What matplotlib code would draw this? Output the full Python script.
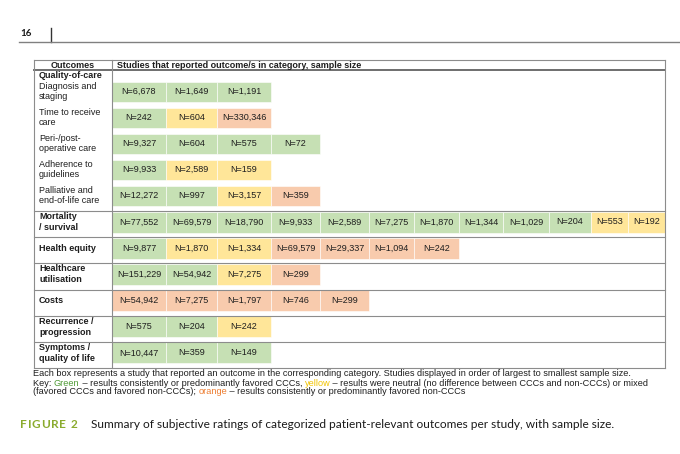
import matplotlib
matplotlib.use("Agg")
import matplotlib.pyplot as plt
from matplotlib.patches import Rectangle

# ---- data ----
sub_labels = ["Diagnosis and\nstaging", "Time to receive\ncare",
              "Peri-/post-\noperative care", "Adherence to\nguidelines",
              "Palliative and\nend-of-life care"]
sub_sizes = [
    [6678, 1649, 1191],
    [242, 604, 330346],
    [9327, 604, 575, 72],
    [9933, 2589, 159],
    [12272, 997, 3157, 359],
]
sub_ratings = [
    "ggg",
    "gyo",
    "gggg",
    "gyy",
    "ggyo",
]

main_labels = ["Mortality\n/ survival", "Health equity", "Healthcare\nutilisation",
               "Costs", "Recurrence /\nprogression", "Symptoms /\nquality of life"]
main_sizes = [
    [77552, 69579, 18790, 9933, 2589, 7275, 1870, 1344, 1029, 204, 553, 192],
    [9877, 1870, 1334, 69579, 29337, 1094, 242],
    [151229, 54942, 7275, 299],
    [54942, 7275, 1797, 746, 299],
    [575, 204, 242],
    [10447, 359, 149],
]
main_ratings = [
    "ggggggggggyy",
    "gyyoooo",
    "ggyo",
    "ooooo",
    "ggy",
    "ggg",
]

fill = {"g": "#c6e0b4", "y": "#ffe699", "o": "#f8cbad"}

# ---- layout (pixels) ----
col_w = [54, 51, 54, 49, 49, 45, 45, 44, 46, 42, 37, 37]
x_left, x_split, x_right = 34, 112, 665
y_top, y_head = 60, 70
sub_first, sub_pitch, sub_h = 91.5, 26.0, 20
main_top, main_pitch, main_h = 211, 26.17, 21

FONT = "Liberation Sans"
FS = 6.5
line_col = "#8c8c8c"
dark = "#1e1e1e"

fig = plt.figure(figsize=(6.8, 4.54), dpi=100)
ax = fig.add_axes([0, 0, 1, 1])
ax.set_xlim(0, 680)
ax.set_ylim(454, 0)
ax.axis("off")

col_x = [x_split]
for w in col_w:
    col_x.append(col_x[-1] + w)


def draw_cells(yc, h, sizes, ratings):
    for k, (n, r) in enumerate(zip(sizes, ratings)):
        ax.add_patch(Rectangle((col_x[k], yc - h / 2), col_w[k], h,
                               facecolor=fill[r], edgecolor="white", lw=0.4))
        ax.text(col_x[k] + col_w[k] / 2, yc, "N={:,}".format(n), ha="center",
                va="center", fontsize=FS, family=FONT, color=dark)


# page header
ax.text(20, 33, "16", fontsize=7, fontweight="bold", family="Lato",
        va="center", color="#1a1a1a")
ax.plot([51, 51], [28, 42], color="#333333", lw=1.0)
ax.plot([19, 680], [42, 42], color="#808080", lw=1.0)

# table header
ax.text((x_left + x_split) / 2, (y_top + y_head) / 2 + 0.5, "Outcomes",
        ha="center", va="center", fontsize=FS, fontweight="bold", family=FONT,
        color=dark)
ax.text(x_split + 5, (y_top + y_head) / 2 + 0.5,
        "Studies that reported outcome/s in category, sample size",
        ha="left", va="center", fontsize=FS, fontweight="bold", family=FONT,
        color=dark)

# quality-of-care block
ax.text(x_left + 5, 75.5, "Quality-of-care", va="center", fontsize=FS,
        fontweight="bold", family=FONT, color=dark)
for i, (lab, sz, rt) in enumerate(zip(sub_labels, sub_sizes, sub_ratings)):
    yc = sub_first + i * sub_pitch
    ax.text(x_left + 5, yc, lab, va="center", fontsize=FS, family=FONT,
            color=dark, linespacing=1.25)
    draw_cells(yc, sub_h, sz, rt)

# main outcome rows
seps = [main_top]
for j, (lab, sz, rt) in enumerate(zip(main_labels, main_sizes, main_ratings)):
    top = main_top + j * main_pitch
    yc = top + 0.5 + main_h / 2
    ax.text(x_left + 5, yc, lab, va="center", fontsize=FS, fontweight="bold",
            family=FONT, color=dark, linespacing=1.25)
    draw_cells(yc, main_h, sz, rt)
    seps.append(top + main_pitch)
y_bot = seps[-1]

# grid lines
ax.plot([x_left, x_right], [y_top, y_top], color=line_col, lw=0.8)
ax.plot([x_left, x_right], [y_head, y_head], color="#6e6e6e", lw=1.4)
for s in seps:
    ax.plot([x_left, x_right], [s, s], color=line_col, lw=0.8)
for xv in (x_left, x_split, x_right):
    ax.plot([xv, xv], [y_top, y_bot], color=line_col, lw=0.8)

# footnote
renderer = fig.canvas.get_renderer()


def draw_pieces(x, y, pieces, **kw):
    for txt, colr in pieces:
        t = ax.text(x, y, txt, color=colr, va="center", **kw)
        bb = t.get_window_extent(renderer=renderer)
        p0 = ax.transData.inverted().transform((bb.x0, bb.y0))
        p1 = ax.transData.inverted().transform((bb.x1, bb.y0))
        x += p1[0] - p0[0]
    return x


note_kw = dict(fontsize=6.6, family=FONT)
draw_pieces(33, 374, [("Each box represents a study that reported an outcome in the "
                       "corresponding category. Studies displayed in order of largest "
                       "to smallest sample size.", dark)], **note_kw)
draw_pieces(33, 383, [("Key: ", dark), ("Green", "#4e9a35"),
                      (" \u2013 results consistently or predominantly favored CCCs, ", dark),
                      ("yellow", "#f2c400"),
                      (" \u2013 results were neutral (no difference between CCCs and "
                       "non-CCCs) or mixed", dark)], **note_kw)
draw_pieces(33, 392, [("(favored CCCs and favored non-CCCs); ", dark),
                      ("orange", "#ed7d31"),
                      (" \u2013 results consistently or predominantly favored non-CCCs", dark)],
            **note_kw)

# caption
xc = 20
for ch in "FIGURE 2":
    t = ax.text(xc, 424, ch, color="#8aab2e", fontsize=8.5, fontweight="bold",
                family="Lato", va="center")
    bb = t.get_window_extent(renderer=renderer)
    xc += bb.width + 0.8 if ch != " " else 3.5
ax.text(91, 424, "Summary of subjective ratings of categorized patient-relevant "
        "outcomes per study, with sample size.", fontsize=8.6, family="Lato",
        va="center", color="#1a1a1a")

fig.savefig("out.png", dpi=100)
